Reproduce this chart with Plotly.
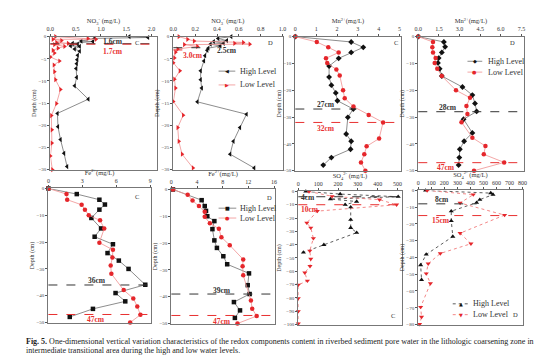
import plotly.graph_objects as go

# ---------------- data ----------------
# Panel 1: NO3- , site C
no3c_high_depth = [0, -0.2, -0.4, -1.0, -1.1, -1.5, -1.7, -2.1, -2.2, -2.8, -3.3, -4.2, -5.2, -6.1, -7.2, -9.2, -11.1, -14.1, -17.3, -20.3, -23.2, -26.3, -29.3]
no3c_high = [1.56, 1.93, 0.87, 0.61, 0.84, 0.44, 0.54, 0.40, 0.58, 0.48, 0.58, 0.54, 0.53, 0.52, 0.51, 0.52, 0.48, 0.75, 0.14, 0.15, 0.20, 0.27, 0.33]
no3c_low_depth = [0, -0.4, -0.6, -0.6, -0.9, -1.3, -1.5, -1.8, -2.2, -2.6, -3.1, -3.7, -4.6, -5.5, -6.4, -7.9, -9.7, -11.9, -15.1, -17.8, -21.0, -24.0, -26.9, -30.0]
no3c_low = [0.10, 0.74, 0.90, 0.05, 0.22, 0.12, 0.35, 0.08, 0.28, 0.15, 0.05, 0.08, 0.0, 0.18, 0.07, 0.08, 0.10, 0.20, 0.12, 0.02, 0.03, 0.03, 0.0, 0.04]

# Panel 2: NO3- , site D
no3d_high_depth = [0, -0.4, -0.9, -1.1, -1.5, -1.7, -2.1, -2.6, -3.1, -4.3, -5.5, -7.7, -9.7, -11.6, -14.7, -17.5, -20.5, -23.6, -26.5, -29.6]
no3d_high = [0.53, 0.41, 0.49, 0.37, 0.46, 0.34, 0.43, 0.32, 0.31, 0.29, 0.28, 0.25, 0.25, 0.26, 0.22, 0.67, 0.61, 0.55, 0.52, 0.74]
no3d_low_depth = [0, -0.6, -1.0, -1.3, -1.5, -1.7, -1.8, -2.2, -2.8, -3.5, -4.8, -5.9, -7.7, -9.6, -11.6, -14.6, -17.7, -20.5, -23.6, -26.5, -29.6]
no3d_low = [0.05, 0.13, 0.19, 0.64, 0.56, 0.70, 0.10, 0.22, 0.04, 0.02, 0.01, 0.0, 0.06, 0.01, 0.02, 0.0, 0.09, 0.04, 0.05, 0.08, 0.18]

# Panel 3: Mn2+ , site C
mnc_high_depth = [0, -2, -4, -5.9, -8.1, -11, -15.1, -18.1, -21, -23.9, -27, -30.1, -36.3, -39, -42, -45.1, -47.9]
mnc_high = [0, 2.68, 3.26, 2.68, 2.08, 1.62, 1.62, 1.73, 1.94, 2.02, 2.78, 2.52, 2.44, 2.68, 2.65, 1.73, 1.34]
mnc_low_depth = [0, -2, -4, -5.9, -8.1, -9.8, -12.3, -14.5, -20, -23, -26.1, -29.2, -32, -38, -40.9, -43.9, -46.9, -50]
mnc_low = [0, 1.03, 1.58, 2.08, 1.47, 1.53, 1.97, 2.13, 2.29, 2.37, 2.79, 3.52, 4.21, 4.02, 3.42, 3.31, 3.15, 3.36]

# Panel 4: Mn2+ , site D
mnd_high_depth = [0, -2, -3.8, -5.9, -8, -9.8, -12, -14.7, -18.8, -21.8, -24.9, -27.9, -30.8, -35.9, -39, -42, -45.1, -47.9]
mnd_high = [0, 1.86, 1.95, 1.71, 1.48, 1.43, 1.55, 1.71, 3.21, 3.93, 4.12, 4.24, 3.29, 3.93, 3.33, 3.02, 2.98, 2.93]
mnd_low_depth = [0, -2, -4, -5.9, -8, -9.8, -12, -14.7, -20, -22.8, -25.9, -28.9, -31.9, -37.7, -40.8, -43.9, -46.9, -50]
mnd_low = [0, 1.07, 1.02, 1.07, 1.26, 1.19, 1.38, 1.71, 2.74, 3.76, 3.5, 3.57, 3.14, 3.93, 4.88, 4.76, 6.24, 4.05]

# Panel 5: Fe2+ , site C
fec_high_depth = [0, -2.1, -4.2, -6, -7.9, -11, -14.9, -18, -20.8, -24.1, -26.9, -30, -35.9, -39, -42.1, -44.9, -47.9]
fec_high = [0, 2.51, 4.51, 5.0, 4.51, 3.8, 4.66, 4.09, 5.71, 5.23, 6.23, 7.09, 8.57, 5.94, 6.8, 3.94, 1.89]
fec_low_depth = [0, -2.1, -4.2, -6.1, -7.9, -10, -11.9, -14.9, -20.2, -22.9, -25.7, -28.7, -31.8, -37.9, -41, -44, -47.1, -50]
fec_low = [0, 1.6, 1.66, 2.94, 3.23, 3.57, 4.57, 4.94, 4.51, 5.71, 5.66, 5.51, 5.57, 6.66, 7.51, 7.86, 8.14, 7.23]

# Panel 6: Fe2+ , site D
fed_high_depth = [0, -4, -6.2, -8, -10, -11.8, -14.8, -19, -21.8, -24.9, -27.9, -31.3, -35.7, -39, -42, -45.1, -47.9]
fed_high = [0.25, 4.72, 5.2, 5.4, 5.6, 6.7, 6.4, 6.7, 7.1, 8.1, 8.7, 12.1, 11.9, 12.2, 9.75, 10.7, 9.9]
fed_low_depth = [0, -2, -4.1, -6.2, -8.3, -10.2, -12.6, -14.7, -17.8, -20.8, -26.1, -28.6, -32, -41.4, -44.5, -47.2, -50]
fed_low = [0.25, 2.54, 3.3, 4.3, 5.2, 5.2, 6.0, 7.4, 7.8, 9.1, 11.2, 11.1, 11.2, 12.4, 12.6, 13.3, 10.3]

# Panel 7: SO4 2- , site C
so4c_high_depth = [0, -2, -4, -5.7, -7.6, -10, -11.8, -21.2, -27.3, -31, -40.1, -45.8]
so4c_high = [38, 211, 503, 162, 294, 236, 264, 264, 264, 294, 129, 26]
so4c_low_depth = [0, -3.7, -6.2, -10, -14.8, -23.6, -27.3, -35.2, -44.6, -50.7, -56.2, -61.1, -67.2, -70.2, -80.3, -90.1, -99.3]
so4c_low = [54, 170, 409, 495, 96, 43, 63, 76, 58, 63, 59, 33, 46, 0, 0, 0, 0]

# Panel 8: SO4 2- , site D
so4d_high_depth = [0, -1.6, -2.5, -5.5, -7.3, -12.4, -18.2, -27.5, -38.2, -44.5, -53.3]
so4d_high = [56, 556, 573, 472, 447, 253, 253, 265, 61, 18, 25]
so4d_low_depth = [0, -2.5, -7.5, -14.7, -25.5, -31.8, -37.6, -43.7, -49.6, -55.5, -69.6, -75.5, -79.8]
so4d_low = [68, 422, 321, 662, 321, 404, 169, 76, 61, 93, 18, 25, 10]

# Redox boundary depths (cm) [high, low] and their labels
boundary_depths = [[1.6, 1.7], [2.5, 3.0], [27, 32], [28, 47], [36, 47], [39, 47], [4, 10], [8, 15]]
boundary_labels = [["1.6cm", "1.7cm"], ["2.5cm", "3.0cm"], ["27cm", "32cm"], ["28cm", "47cm"],
                   ["36cm", "47cm"], ["39cm", "47cm"], ["4cm", "10cm"], ["8cm", "15cm"]]

# Tick labels
no3c_ticks = [0, 0.5, 1.0, 1.5, 2.0]
no3d_ticks = [0, 0.2, 0.4, 0.6, 0.8, 1.0]
mnc_ticks = [0, 1, 2, 3, 4, 5]
mnd_ticks = [0, 1.5, 3.0, 4.5, 6.0, 7.5]
fec_ticks = [0, 3, 6, 9]
fed_ticks = [0, 4, 8, 12, 16]
so4c_ticks = [0, 100, 200, 300, 400, 500]
so4d_ticks = [0, 100, 200, 300, 400, 500, 600, 700, 800]
series_names = ["High Level", "Low Level"]

# ---------------- layout helpers ----------------
W, H = 554, 356
SERIF = "Liberation Serif, Times New Roman, serif"
BLACK_M, BLACK_L = "#111111", "#707070"
RED_M, RED_L = "#e5262b", "#f09090"


def dx(px):
    return px / W


def dy(py):
    return 1 - py / H


panels = [
    dict(xpx=(39, 147), ypx=(27, 162), xrange=[0, 2.1], yrange=[-30, 0], xt=no3c_ticks, xfmt=".1f", ydt=5,
         title="NO<sub>3</sub><sup>-</sup> (mg/L)",
         data=(no3c_high, no3c_high_depth, no3c_low, no3c_low_depth), sym=("triangle-left", "triangle-right"),
         dash="solid", letter="C", letpos=(127, 33)),
    dict(xpx=(164, 275), ypx=(27, 162), xrange=[0, 1.0], yrange=[-30, 0], xt=no3d_ticks, xfmt=".1f", ydt=5,
         title="NO<sub>3</sub><sup>-</sup> (mg/L)",
         data=(no3d_high, no3d_high_depth, no3d_low, no3d_low_depth), sym=("triangle-left", "triangle-right"),
         dash="solid", letter="D", letpos=(263, 33)),
    dict(xpx=(288, 395), ypx=(27, 163), xrange=[0, 5.05], yrange=[-50, 0], xt=mnc_ticks, xfmt="d", ydt=10,
         title="Mn<sup>2+</sup>(mg/L)",
         data=(mnc_high, mnc_high_depth, mnc_low, mnc_low_depth), sym=("diamond", "circle"),
         dash="solid", letter="C", letpos=(390, 33)),
    dict(xpx=(413, 520), ypx=(27, 163), xrange=[0, 7.65], yrange=[-50, 0], xt=mnd_ticks, xfmt=".1f", ydt=10,
         title="Mn<sup>2+</sup>(mg/L)",
         data=(mnd_high, mnd_high_depth, mnd_low, mnd_low_depth), sym=("diamond", "circle"),
         dash="solid", letter="D", letpos=(509, 33)),
    dict(xpx=(37, 141), ypx=(181, 317), xrange=[0, 9.05], yrange=[-50, 0], xt=fec_ticks, xfmt="d", ydt=10,
         title="Fe<sup>2+</sup>(mg/L)",
         data=(fec_high, fec_high_depth, fec_low, fec_low_depth), sym=("square", "circle"),
         dash="solid", letter="C", letpos=(127, 189)),
    dict(xpx=(162, 267), ypx=(182, 318), xrange=[0, 16.1], yrange=[-50, 0], xt=fed_ticks, xfmt="d", ydt=10,
         title="Fe<sup>2+</sup>(mg/L)",
         data=(fed_high, fed_high_depth, fed_low, fed_low_depth), sym=("square", "circle"),
         dash="solid", letter="D", letpos=(262, 190)),
    dict(xpx=(291, 396), ypx=(184, 319), xrange=[0, 520], yrange=[-100, 0], xt=so4c_ticks, xfmt="d", ydt=10,
         title="SO<sub>4</sub><sup>2-</sup> (mg/L)",
         data=(so4c_high, so4c_high_depth, so4c_low, so4c_low_depth), sym=("triangle-up", "triangle-down"),
         dash="dot", letter="C", letpos=(387, 310)),
    dict(xpx=(413, 519), ypx=(183, 319), xrange=[0, 800], yrange=[-80, 0], xt=so4d_ticks, xfmt="d", ydt=10,
         title="SO<sub>4</sub><sup>2-</sup> (mg/L)",
         data=(so4d_high, so4d_high_depth, so4d_low, so4d_low_depth), sym=("triangle-up", "triangle-down"),
         dash="dot", letter="D", letpos=(512, 309)),
]

# boundary label placement: (x, y) in data coords for [high, low]; dashed line extents (fraction of width)
label_specs = [
    ((1.0, -1.0), (1.0, -3.3), 1.0, 1.0),
    ((0.38, -3.2), (0.07, -4.2), 0.32, 0.10),
    ((0.94, -25.2), (0.94, -34.4), 0.58, 1.0),
    ((1.36, -26.3), (1.2, -48.8), 1.0, 1.0),
    ((3.36, -34.4), (3.2, -49.0), 1.0, 1.0),
    ((6.25, -37.6), (6.25, -49.2), 1.0, 1.0),
    ((5, -4.3), (5, -13.4), 1.0, 1.0),
    ((113, -5.2), (90, -17.7), 0.56, 1.0),
]

# manual legends: panel index -> (line x0, x1, text x, y high, y low) in pixels, marker glyphs
legend_specs = {
    1: ((210, 227, 230, 62, 76), ("◀", "▶")),
    3: ((463, 478, 482, 52, 63), ("◆", "●")),
    5: ((210, 228, 230, 201, 211), ("■", "●")),
    7: ((448, 465, 467, 298, 309), ("▲", "▼")),
}

fig = go.Figure()
layout = dict(
    width=W, height=H, margin=dict(l=0, r=0, t=0, b=0),
    paper_bgcolor="white", plot_bgcolor="white", showlegend=False,
    font=dict(family=SERIF, color="#333333"),
)
shapes, annotations = [], []

for i, p in enumerate(panels):
    n = "" if i == 0 else str(i + 1)
    xa, ya = "x" + n, "y" + n
    hx, hy, lx, ly = p["data"]
    line_cols = (BLACK_L, RED_L) if p["dash"] == "solid" else ("#333333", "#f06a6a")
    for (xs, ys, col_m, col_l, sym, name) in [
        (hx, hy, BLACK_M, line_cols[0], p["sym"][0], series_names[0]),
        (lx, ly, RED_M, line_cols[1], p["sym"][1], series_names[1]),
    ]:
        fig.add_trace(go.Scatter(
            x=xs, y=ys, mode="lines+markers", name=name, xaxis=xa, yaxis=ya,
            line=dict(color=col_l, width=0.8, dash=p["dash"]),
            marker=dict(symbol=sym, size=4.5, color=col_m, line=dict(width=0)),
            cliponaxis=False))

    ydt = p["ydt"]
    yticks = list(range(0, int(p["yrange"][0]) - 1, -ydt))
    layout["xaxis" + n] = dict(
        domain=[dx(p["xpx"][0]), dx(p["xpx"][1])], range=p["xrange"], anchor=ya, side="top",
        tickvals=p["xt"], tickformat=p["xfmt"], ticks="outside", ticklen=2, tickwidth=0.8,
        tickcolor="#555", showline=True, linecolor="#777", linewidth=1.2, mirror=True,
        showgrid=False, zeroline=False, tickfont=dict(size=6, family=SERIF, color="#333"),
        title=dict(text=p["title"], font=dict(size=6.5, family=SERIF, color="#333"), standoff=1),
    )
    layout["yaxis" + n] = dict(
        domain=[dy(p["ypx"][1]), dy(p["ypx"][0])], range=p["yrange"], anchor=xa,
        tickvals=yticks, ticks="outside", ticklen=2, tickwidth=0.8, tickcolor="#555",
        showline=True, linecolor="#777", linewidth=1.2, mirror=True, showgrid=False,
        zeroline=False, tickfont=dict(size=5, family=SERIF, color="#444"),
        title=dict(text="Depth (cm)", font=dict(size=6, family=SERIF, color="#333"), standoff=1),
    )

    hb, lb = boundary_depths[i]
    hl, ll = boundary_labels[i]
    hspec, lspec, hext, lext = label_specs[i]
    for depth, lab, spec, ext, col in [(hb, hl, hspec, hext, "#333333"), (lb, ll, lspec, lext, "#e83030")]:
        shapes.append(dict(type="line", xref=xa + " domain", yref=ya, x0=0, x1=ext, y0=-depth, y1=-depth,
                           line=dict(color=col, width=1, dash="dash")))
        annotations.append(dict(x=spec[0], y=spec[1], xref=xa, yref=ya, xanchor="left", yanchor="middle",
                                text="<b>%s</b>" % lab, showarrow=False,
                                font=dict(size=7.5, family=SERIF, color=col)))
    annotations.append(dict(x=dx(p["letpos"][0]), y=dy(p["letpos"][1]), xref="paper", yref="paper",
                            text=p["letter"], showarrow=False, xanchor="center", yanchor="middle",
                            font=dict(size=6.5, family=SERIF, color="#333")))

    if i in legend_specs:
        (x0, x1, tx, yh, yl), glyphs = legend_specs[i]
        for yy, glyph, lc, mc, name in [(yh, glyphs[0], line_cols[0], BLACK_M, series_names[0]),
                                        (yl, glyphs[1], line_cols[1], RED_M, series_names[1])]:
            shapes.append(dict(type="line", xref="paper", yref="paper", x0=dx(x0), x1=dx(x1),
                               y0=dy(yy), y1=dy(yy), line=dict(color=lc, width=0.8, dash=p["dash"])))
            annotations.append(dict(x=dx((x0 + x1) / 2), y=dy(yy), xref="paper", yref="paper",
                                    xanchor="center", yanchor="middle", text=glyph, showarrow=False,
                                    font=dict(size=5, family="DejaVu Sans", color=mc)))
            annotations.append(dict(x=dx(tx), y=dy(yy), xref="paper", yref="paper", xanchor="left",
                                    yanchor="middle", text=name, showarrow=False,
                                    font=dict(size=8, family=SERIF, color="#333")))

annotations.append(dict(x=dx(12), y=dy(336), xref="paper", yref="paper", xanchor="left", yanchor="middle",
                        showarrow=False, align="left",
                        text="<b>Fig. 5.</b> One-dimensional vertical variation characteristics of the redox components content in riverbed sediment pore water in the lithologic coarsening zone in",
                        font=dict(size=8.0, family=SERIF, color="#222")))
annotations.append(dict(x=dx(12), y=dy(345.5), xref="paper", yref="paper", xanchor="left", yanchor="middle",
                        showarrow=False, align="left",
                        text="intermediate transitional area during the high and low water levels.",
                        font=dict(size=8.0, family=SERIF, color="#222")))

layout["shapes"] = shapes
layout["annotations"] = annotations
fig.update_layout(**layout)
fig.write_html("out.html")
